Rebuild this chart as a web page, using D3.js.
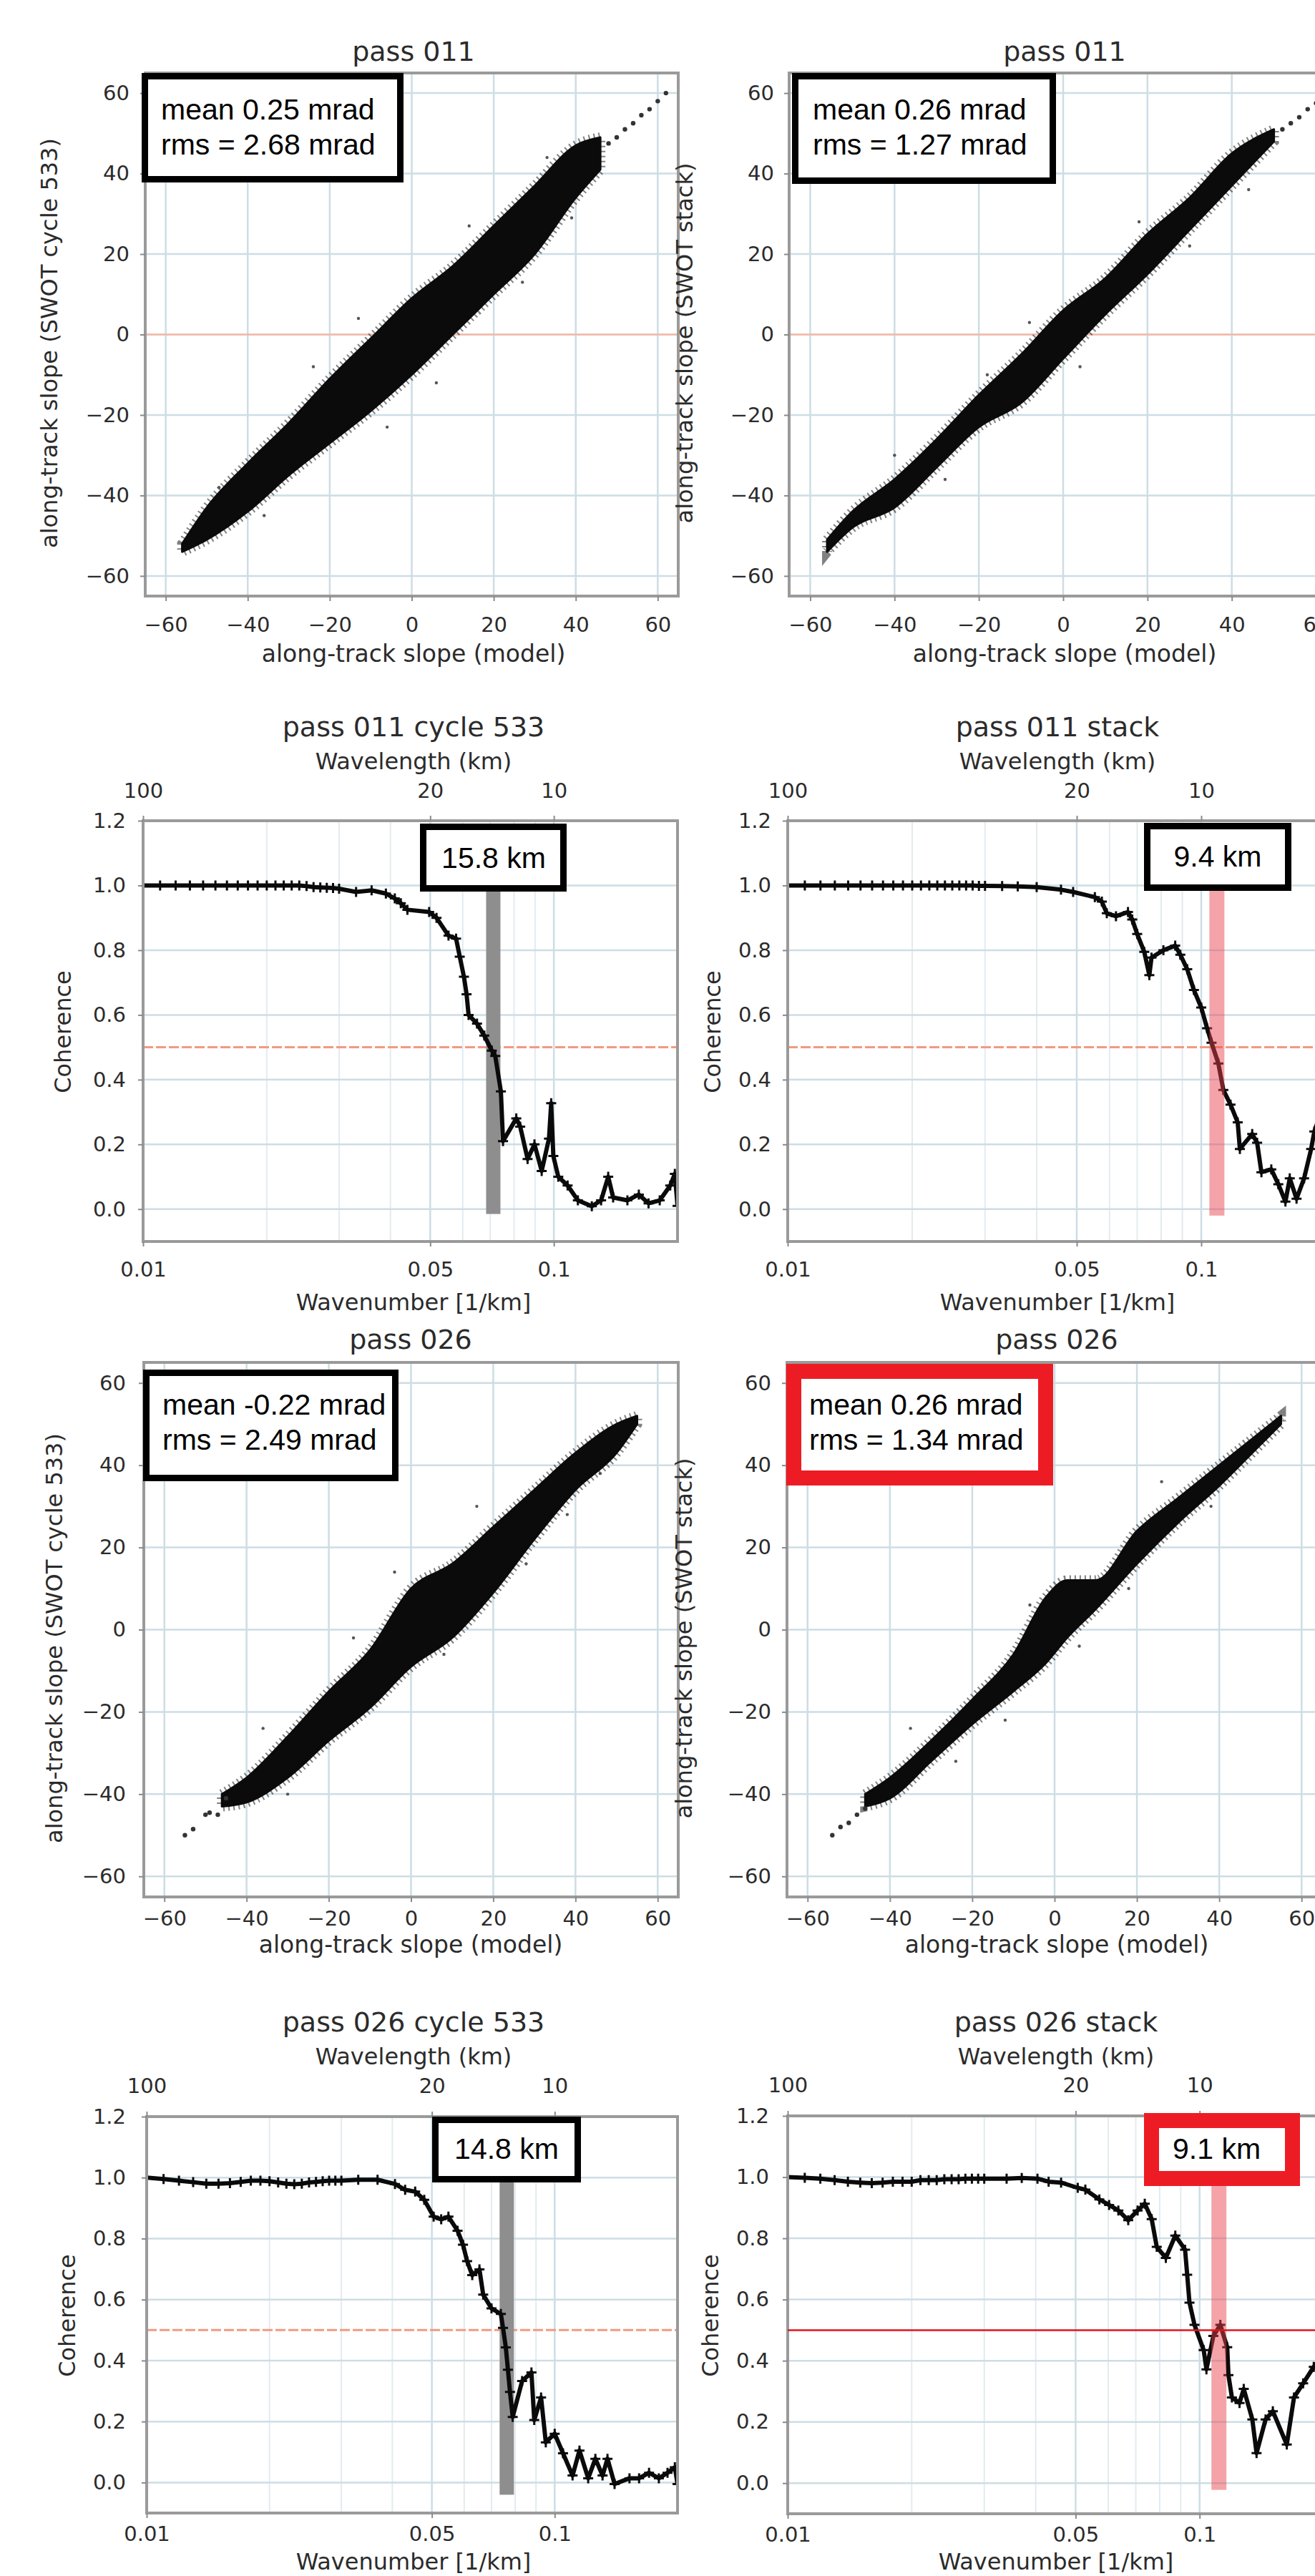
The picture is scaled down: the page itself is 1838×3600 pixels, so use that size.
<!DOCTYPE html>
<html>
<head>
<meta charset="utf-8">
<script src="https://cdn.jsdelivr.net/npm/d3@7"></script>
<style>
  body { margin: 0; background: #fff; }
  svg { display: block; }
</style>
</head>
<body>
<div class="container"></div>
<script>
// ---------- data ----------
var slopeTicks = [-60, -40, -20, 0, 20, 40, 60];
var cohTicks = [0, 0.2, 0.4, 0.6, 0.8, 1.0, 1.2];
var kTicks = [0.01, 0.05, 0.1];
var kTickLabels = ['0.01', '0.05', '0.1'];
var kMinor = [0.02, 0.03, 0.04, 0.06, 0.07, 0.08, 0.09, 0.2];
var lambdaTicks = [100, 20, 10];
var halfLine = 0.5;

// scatter clouds: dense core band (model slope -> SWOT slope range)
var p011cX  = [-56, -50, -40, -30, -20, -10, 0, 10, 20, 30, 40, 46];
var p011cLo = [-54, -51, -44, -35, -27, -19, -10, 0, 10, 20, 34, 41];
var p011cHi = [-52, -43, -32, -22, -11, -1, 9, 17, 27, 37, 47, 49];
var p011cTail = [[48, 47.5], [50, 49], [52, 51], [54, 52.5], [56, 54.5], [58, 56], [60, 58], [62, 60]];
var p011cStray = [[-47, -38], [-36, -45], [-24, -8], [-13, 4], [6, -12], [14, 27], [27, 13], [33, 44], [-6, -23], [39, 29]];

var p011sX  = [-56, -50, -40, -30, -20, -10, 0, 10, 20, 30, 40, 50];
var p011sLo = [-54, -48, -43, -33, -23, -17, -6, 5, 15, 26, 37, 48];
var p011sHi = [-51, -44, -36, -26, -15, -5, 6, 14, 25, 34, 45, 51];
var p011sTail = [[52, 51], [54, 52.5], [56, 54], [58, 56], [60, 57.5], [62, 59.5]];
var p011sStray = [[-40, -30], [-28, -36], [-8, 3], [4, -8], [18, 28], [30, 22], [44, 36], [-18, -10]];

var p026cX  = [-46, -40, -30, -20, -10, 0, 10, 20, 30, 40, 50, 55];
var p026cLo = [-43, -42, -36, -27, -19, -9, -2, 9, 22, 34, 43, 50];
var p026cHi = [-40, -36, -26, -15, -5, 10, 16, 25, 34, 43, 50, 52];
var p026cTail = [[-55, -50], [-53, -48.5], [-50, -45], [-49, -44.5], [-47, -45], [-45, -41]];
var p026cStray = [[-36, -24], [-30, -40], [-14, -2], [-4, 14], [8, -6], [16, 30], [28, 16], [38, 28], [46, 38]];

var p026sX  = [-46, -40, -30, -20, -10, -2, 3, 10, 20, 30, 40, 50, 55];
var p026sLo = [-43, -41, -32, -23, -15, -8, -2, 5, 16, 26, 35, 45, 50];
var p026sHi = [-40, -36, -27, -17, -6, 8, 12, 12, 24, 32, 40, 48, 52];
var p026sTail = [[-54, -50], [-52, -48], [-50, -47], [-48, -45], [-46, -43.5]];
var p026sStray = [[-35, -24], [-24, -32], [-6, 6], [6, -4], [18, 10], [26, 36], [38, 30], [-12, -22]];

// coherence vs wavenumber (1/km)
var c011cK = [0.010, 0.011, 0.012, 0.013, 0.014, 0.015, 0.016, 0.017, 0.018, 0.019, 0.020, 0.021, 0.022, 0.023, 0.024, 0.025, 0.026, 0.027, 0.028, 0.029, 0.030,
  0.033, 0.036, 0.039, 0.041, 0.0424, 0.044, 0.0497, 0.0518, 0.0554, 0.0578, 0.059, 0.0604, 0.0613, 0.062, 0.065, 0.0677, 0.0706, 0.072, 0.0743, 0.0752,
  0.081, 0.0828, 0.0863, 0.0897, 0.0934, 0.0973, 0.0985, 0.0997, 0.1025, 0.108, 0.1144, 0.1237, 0.1303, 0.1356, 0.1394, 0.151, 0.161, 0.17, 0.181, 0.192, 0.197, 0.2];
var c011cC = [1, 1, 1, 1, 1, 1, 1, 1, 1, 1, 1, 1, 1, 1, 1, 0.998, 0.995, 0.994, 0.993, 0.992, 0.99,
  0.98, 0.985, 0.975, 0.96, 0.945, 0.925, 0.918, 0.9, 0.845, 0.836, 0.78, 0.718, 0.664, 0.6, 0.573, 0.536, 0.49, 0.473, 0.364, 0.21,
  0.28, 0.255, 0.155, 0.2, 0.118, 0.218, 0.327, 0.164, 0.1, 0.073, 0.027, 0.009, 0.027, 0.1, 0.036, 0.027, 0.045, 0.018, 0.027, 0.073, 0.109, 0.01];

var c011sK = [0.010, 0.011, 0.012, 0.013, 0.014, 0.015, 0.016, 0.017, 0.018, 0.019, 0.020, 0.021, 0.022, 0.023, 0.024, 0.025, 0.026, 0.027, 0.028, 0.029, 0.030,
  0.033, 0.036, 0.040, 0.0458, 0.049, 0.0553, 0.0575, 0.0591, 0.0622, 0.0665, 0.0681, 0.070, 0.0728, 0.0749, 0.0758, 0.081, 0.0865, 0.089, 0.0925, 0.096,
  0.100, 0.1033, 0.1059, 0.110, 0.1131, 0.1177, 0.1225, 0.124, 0.1328, 0.1365, 0.1398, 0.1477, 0.1536, 0.1598, 0.1637, 0.170, 0.1773, 0.1844, 0.1877, 0.195, 0.2];
var c011sC = [1, 1, 1, 1, 1, 1, 1, 1, 1, 1, 1, 1, 1, 1, 1, 1, 1, 1, 1, 0.999, 0.999,
  0.998, 0.997, 0.995, 0.987, 0.98, 0.964, 0.95, 0.914, 0.905, 0.918, 0.895, 0.85, 0.795, 0.723, 0.777, 0.8, 0.814, 0.786, 0.741, 0.677,
  0.623, 0.559, 0.514, 0.45, 0.368, 0.323, 0.268, 0.186, 0.232, 0.205, 0.114, 0.123, 0.077, 0.023, 0.095, 0.032, 0.095, 0.186, 0.24, 0.3, 0.32];

var c026cK = [0.010, 0.011, 0.012, 0.013, 0.014, 0.015, 0.016, 0.017, 0.018, 0.019, 0.020, 0.021, 0.022, 0.023, 0.024, 0.025, 0.026, 0.027, 0.028, 0.029, 0.030,
  0.033, 0.0368, 0.0406, 0.043, 0.0455, 0.0479, 0.0505, 0.0527, 0.0549, 0.0578, 0.0596, 0.061, 0.0628, 0.0654, 0.0668, 0.070, 0.0738, 0.0747, 0.0759, 0.0768,
  0.0777, 0.0789, 0.0832, 0.0877, 0.0891, 0.0926, 0.0951, 0.100, 0.1048, 0.1106, 0.115, 0.1208, 0.1258, 0.131, 0.1347, 0.1402, 0.1525, 0.161, 0.1703, 0.180, 0.189, 0.197, 0.2];
var c026cC = [1.0, 0.995, 0.99, 0.985, 0.98, 0.98, 0.982, 0.986, 0.99, 0.99, 0.988, 0.984, 0.98, 0.978, 0.98, 0.984, 0.986, 0.988, 0.99, 0.99, 0.99,
  0.993, 0.993, 0.979, 0.96, 0.954, 0.927, 0.872, 0.863, 0.872, 0.826, 0.78, 0.726, 0.68, 0.699, 0.616, 0.571, 0.553, 0.507, 0.443, 0.37,
  0.297, 0.215, 0.333, 0.361, 0.205, 0.279, 0.132, 0.16, 0.096, 0.023, 0.105, 0.014, 0.078, 0.023, 0.078, -0.005, 0.014, 0.014, 0.032, 0.014, 0.032, 0.05, -0.005];

var c026sK = [0.010, 0.011, 0.012, 0.013, 0.014, 0.015, 0.016, 0.017, 0.018, 0.019, 0.020, 0.021, 0.022, 0.023, 0.024, 0.025, 0.026, 0.027, 0.028, 0.029, 0.030,
  0.034, 0.037, 0.0404, 0.043, 0.0461, 0.0506, 0.0528, 0.0571, 0.0603, 0.0635, 0.0671, 0.0707, 0.0736, 0.0765, 0.0787, 0.0828, 0.0873, 0.0922, 0.0933, 0.0945,
  0.0972, 0.1023, 0.1039, 0.108, 0.1123, 0.1167, 0.1175, 0.1198, 0.125, 0.128, 0.1343, 0.1375, 0.1446, 0.1506, 0.1628, 0.1695, 0.1784, 0.1893, 0.2];
var c026sC = [1.0, 0.998, 0.995, 0.99, 0.985, 0.982, 0.98, 0.982, 0.985, 0.985, 0.985, 0.99, 0.99, 0.99, 0.993, 0.993, 0.993, 0.995, 0.995, 0.995, 0.995,
  0.995, 0.997, 0.995, 0.985, 0.982, 0.965, 0.959, 0.927, 0.909, 0.891, 0.859, 0.891, 0.913, 0.863, 0.772, 0.736, 0.809, 0.763, 0.681, 0.59,
  0.517, 0.435, 0.372, 0.481, 0.517, 0.444, 0.353, 0.28, 0.262, 0.308, 0.208, 0.098, 0.208, 0.235, 0.126, 0.28, 0.326, 0.38, 0.42];

// resolved wavelength (km) and where the marker bar sits
var cutoffLabels = ['15.8 km', '9.4 km', '14.8 km', '9.1 km'];
var cutoffK = [0.0712, 0.1091, 0.0763, 0.1114];

var statLines = [
  ['mean 0.25 mrad', 'rms = 2.68 mrad'],
  ['mean 0.26 mrad', 'rms = 1.27 mrad'],
  ['mean -0.22 mrad', 'rms = 2.49 mrad'],
  ['mean 0.26 mrad', 'rms = 1.34 mrad']
];

// ---------- drawing ----------
const WIDTH = 1838;
const HEIGHT = 3600;
const MPL_FONT = 'DejaVu Sans, Verdana, sans-serif';
const BOX_FONT = 'Liberation Sans, Arial, sans-serif';
const TEXT_COLOR = '#2b2b2b';
const GRID_COLOR = '#cddde5';
const FRAME_COLOR = '#9a9a9a';
const RED_BOX = '#ed1c24';

var svg = d3.select('.container').append('svg')
    .attr('width', WIDTH)
    .attr('height', HEIGHT);
svg.append('rect').attr('width', WIDTH).attr('height', HEIGHT).attr('fill', '#fff');

var addText = function (g, txt, x, y, size, anchor, rotate) {
    var t = g.append('text')
        .attr('font-family', MPL_FONT)
        .attr('font-size', size)
        .attr('fill', TEXT_COLOR)
        .attr('text-anchor', anchor || 'middle')
        .text(txt);
    if (rotate)
        t.attr('transform', 'translate(' + x + ',' + y + ') rotate(-90)');
    else
        t.attr('x', x).attr('y', y);
    return t;
};

var styleAxis = function (axisG) {
    axisG.select('.domain').remove();
    axisG.selectAll('.tick line').attr('stroke', '#8a8a8a').attr('stroke-width', 2);
    axisG.selectAll('.tick text')
        .attr('font-family', MPL_FONT)
        .attr('font-size', 29)
        .attr('fill', TEXT_COLOR);
};

var addStatBox = function (g, b, lines, color, border) {
    g.append('rect')
        .attr('x', b.x0 + border / 2).attr('y', b.y0 + border / 2)
        .attr('width', b.x1 - b.x0 - border).attr('height', b.y1 - b.y0 - border)
        .attr('fill', '#fff').attr('stroke', color).attr('stroke-width', border);
    lines.forEach(function (line, i) {
        g.append('text')
            .attr('x', b.tx).attr('y', b.ty + i * 49)
            .attr('font-family', BOX_FONT).attr('font-size', 41)
            .attr('text-anchor', b.anchor || 'start')
            .attr('fill', '#000')
            .text(line);
    });
};

var drawScatter = function (cfg) {
    var f = cfg.frame;
    var x = d3.scaleLinear().domain([-65, 65]).range([f.x0, f.x1]);
    var y = d3.scaleLinear().domain([-65, 65]).range([f.y1, f.y0]);
    var g = svg.append('g');

    g.append('clipPath').attr('id', 'clip' + cfg.id).append('rect')
        .attr('x', f.x0).attr('y', f.y0).attr('width', f.x1 - f.x0).attr('height', f.y1 - f.y0);
    var inner = g.append('g').attr('clip-path', 'url(#clip' + cfg.id + ')');

    inner.selectAll('.gx').data(slopeTicks).enter().append('line')
        .attr('x1', function (d) { return x(d); }).attr('x2', function (d) { return x(d); })
        .attr('y1', f.y0).attr('y2', f.y1)
        .attr('stroke', GRID_COLOR).attr('stroke-width', 2.5);
    inner.selectAll('.gy').data(slopeTicks).enter().append('line')
        .attr('y1', function (d) { return y(d); }).attr('y2', function (d) { return y(d); })
        .attr('x1', f.x0).attr('x2', f.x1)
        .attr('stroke', GRID_COLOR).attr('stroke-width', 2.5);

    if (cfg.zeroLine)
        inner.append('line')
            .attr('x1', f.x0).attr('x2', f.x1).attr('y1', y(0)).attr('y2', y(0))
            .attr('stroke', '#f3b9a8').attr('stroke-width', 2.5);

    var idx = d3.range(cfg.cloudX.length);
    var area = d3.area()
        .x(function (i) { return x(cfg.cloudX[i]); })
        .y0(function (i) { return y(cfg.cloudLo[i]); })
        .y1(function (i) { return y(cfg.cloudHi[i]); })
        .curve(d3.curveMonotoneX);
    // speckled fringe so the cloud edge looks like scattered points
    inner.append('path').datum(idx).attr('d', area)
        .attr('fill', 'none')
        .attr('stroke', '#1a1a1a').attr('stroke-width', 14)
        .attr('stroke-dasharray', '2,5').attr('stroke-opacity', 0.55);
    inner.append('path').datum(idx).attr('d', area)
        .attr('fill', '#0b0b0b')
        .attr('stroke', '#0b0b0b').attr('stroke-width', 3)
        .attr('stroke-linejoin', 'round');

    inner.selectAll('.tail').data(cfg.tail).enter().append('circle')
        .attr('cx', function (d) { return x(d[0]); }).attr('cy', function (d) { return y(d[1]); })
        .attr('r', 3.2).attr('fill', '#333');
    inner.selectAll('.stray').data(cfg.stray).enter().append('circle')
        .attr('cx', function (d) { return x(d[0]); }).attr('cy', function (d) { return y(d[1]); })
        .attr('r', 2.2).attr('fill', '#555');

    g.append('rect')
        .attr('x', f.x0).attr('y', f.y0).attr('width', f.x1 - f.x0).attr('height', f.y1 - f.y0)
        .attr('fill', 'none').attr('stroke', FRAME_COLOR).attr('stroke-width', 4);

    var xAxis = g.append('g').attr('transform', 'translate(0,' + f.y1 + ')')
        .call(d3.axisBottom(x).tickValues(slopeTicks).tickSize(7).tickPadding(cfg.xPad).tickFormat(d3.format('d')));
    styleAxis(xAxis);
    var yAxis = g.append('g').attr('transform', 'translate(' + f.x0 + ',0)')
        .call(d3.axisLeft(y).tickValues(slopeTicks).tickSize(7).tickPadding(cfg.yPad).tickFormat(d3.format('d')));
    styleAxis(yAxis);

    addText(g, cfg.title, cfg.titleX, cfg.titleY, 38);
    addText(g, 'along-track slope (model)', cfg.titleX, cfg.xLabelY, 33);
    addText(g, cfg.yLabel, cfg.yLabelX, (f.y0 + f.y1) / 2 + 12, 32, 'middle', true);

    addStatBox(g, cfg.box, cfg.stats, cfg.boxColor, cfg.boxBorder);
};

var drawCoherence = function (cfg) {
    var f = cfg.frame;
    var x = d3.scaleLog().domain([0.01, 0.2]).range([f.x0, f.x1]);
    var y = d3.scaleLinear().domain([-0.1, 1.2]).range([f.y1, f.y0]);
    var g = svg.append('g');

    g.append('clipPath').attr('id', 'clip' + cfg.id).append('rect')
        .attr('x', f.x0).attr('y', f.y0).attr('width', f.x1 - f.x0).attr('height', f.y1 - f.y0);
    var inner = g.append('g').attr('clip-path', 'url(#clip' + cfg.id + ')');

    inner.selectAll('.gm').data(kMinor).enter().append('line')
        .attr('x1', function (d) { return x(d); }).attr('x2', function (d) { return x(d); })
        .attr('y1', f.y0).attr('y2', f.y1)
        .attr('stroke', '#e3ebef').attr('stroke-width', 2);
    inner.selectAll('.gx').data(kTicks).enter().append('line')
        .attr('x1', function (d) { return x(d); }).attr('x2', function (d) { return x(d); })
        .attr('y1', f.y0).attr('y2', f.y1)
        .attr('stroke', GRID_COLOR).attr('stroke-width', 2.5);
    inner.selectAll('.gy').data(cohTicks).enter().append('line')
        .attr('y1', function (d) { return y(d); }).attr('y2', function (d) { return y(d); })
        .attr('x1', f.x0).attr('x2', f.x1)
        .attr('stroke', GRID_COLOR).attr('stroke-width', 2.5);

    if (!cfg.solidHalf)
        inner.append('line')
            .attr('x1', f.x0).attr('x2', f.x1).attr('y1', y(halfLine)).attr('y2', y(halfLine))
            .attr('stroke', '#f29a82').attr('stroke-width', 3).attr('stroke-dasharray', '14,4');

    var barX = x(cfg.cutK);
    if (!cfg.pinkBar)
        inner.append('rect')
            .attr('x', barX - 10).attr('width', 20)
            .attr('y', cfg.box.y1).attr('height', y(cfg.barBottom) - cfg.box.y1)
            .attr('fill', '#8e8e8e');

    var pts = d3.range(cfg.k.length).map(function (i) { return [x(cfg.k[i]), y(cfg.c[i])]; });
    inner.append('path').datum(pts)
        .attr('d', d3.line())
        .attr('fill', 'none').attr('stroke', '#0a0a0a').attr('stroke-width', 6)
        .attr('stroke-linejoin', 'round');
    inner.selectAll('.mk').data(pts).enter().append('path')
        .attr('d', function (d) {
            return 'M' + (d[0] - 7) + ',' + d[1] + 'H' + (d[0] + 7) + 'M' + d[0] + ',' + (d[1] - 7) + 'V' + (d[1] + 7);
        })
        .attr('stroke', '#0a0a0a').attr('stroke-width', 3);

    if (cfg.pinkBar)
        inner.append('rect')
            .attr('x', barX - 10.5).attr('width', 21)
            .attr('y', cfg.box.y1).attr('height', y(cfg.barBottom) - cfg.box.y1)
            .attr('fill', '#e8414c').attr('fill-opacity', 0.48);

    g.append('rect')
        .attr('x', f.x0).attr('y', f.y0).attr('width', f.x1 - f.x0).attr('height', f.y1 - f.y0)
        .attr('fill', 'none').attr('stroke', FRAME_COLOR).attr('stroke-width', 4);

    if (cfg.solidHalf)
        g.append('line')
            .attr('x1', f.x0).attr('x2', WIDTH).attr('y1', y(halfLine)).attr('y2', y(halfLine))
            .attr('stroke', '#e0141c').attr('stroke-width', 2.5);

    var bottom = g.append('g').attr('transform', 'translate(0,' + f.y1 + ')')
        .call(d3.axisBottom(x).tickValues(kTicks).tickSize(7).tickPadding(cfg.xPad)
            .tickFormat(function (d, i) { return kTickLabels[i]; }));
    styleAxis(bottom);
    var top = g.append('g').attr('transform', 'translate(0,' + f.y0 + ')')
        .call(d3.axisTop(x).tickValues(lambdaTicks.map(function (l) { return 1 / l; })).tickSize(7).tickPadding(cfg.topPad)
            .tickFormat(function (d, i) { return lambdaTicks[i]; }));
    styleAxis(top);
    var left = g.append('g').attr('transform', 'translate(' + f.x0 + ',0)')
        .call(d3.axisLeft(y).tickValues(cohTicks).tickSize(7).tickPadding(cfg.yPad).tickFormat(d3.format('.1f')));
    styleAxis(left);

    addText(g, cfg.title, cfg.titleX, cfg.titleY, 38);
    addText(g, 'Wavelength (km)', cfg.titleX, cfg.titleY + 46, 32);
    addText(g, 'Wavenumber [1/km]', cfg.titleX, cfg.xLabelY, 32);
    addText(g, 'Coherence', cfg.yLabelX, cfg.yLabelY, 32, 'middle', true);

    addStatBox(g, cfg.box, [cfg.label], cfg.boxColor, cfg.boxBorder);
};

// ---------- panels ----------
drawScatter({
    id: 's1', frame: {x0: 203, x1: 948, y0: 102, y1: 833},
    cloudX: p011cX, cloudLo: p011cLo, cloudHi: p011cHi, tail: p011cTail, stray: p011cStray,
    zeroLine: true, xPad: 22, yPad: 15,
    title: 'pass 011', titleX: 578, titleY: 85, xLabelY: 925,
    yLabel: 'along-track slope (SWOT cycle 533)', yLabelX: 80,
    stats: statLines[0], boxColor: '#000', boxBorder: 9,
    box: {x0: 198, x1: 564, y0: 102, y1: 255, tx: 225, ty: 167}
});
drawScatter({
    id: 's2', frame: {x0: 1103, x1: 1869, y0: 102, y1: 833},
    cloudX: p011sX, cloudLo: p011sLo, cloudHi: p011sHi, tail: p011sTail, stray: p011sStray,
    zeroLine: true, xPad: 22, yPad: 14,
    title: 'pass 011', titleX: 1488, titleY: 85, xLabelY: 925,
    yLabel: 'along-track slope (SWOT stack)', yLabelX: 968,
    stats: statLines[1], boxColor: '#000', boxBorder: 9,
    box: {x0: 1107, x1: 1476, y0: 102, y1: 257, tx: 1136, ty: 167}
});
drawCoherence({
    id: 'c1', frame: {x0: 200, x1: 947, y0: 1147, y1: 1735},
    k: c011cK, c: c011cC, cutK: cutoffK[0], barBottom: -0.015, label: cutoffLabels[0],
    xPad: 21, topPad: 25, yPad: 17,
    title: 'pass 011 cycle 533', titleX: 578, titleY: 1029, xLabelY: 1831,
    yLabelX: 99, yLabelY: 1442,
    boxColor: '#000', boxBorder: 9,
    box: {x0: 587, x1: 792, y0: 1151, y1: 1246, tx: 690, ty: 1213, anchor: 'middle'}
});
drawCoherence({
    id: 'c2', frame: {x0: 1101, x1: 1853, y0: 1147, y1: 1735},
    k: c011sK, c: c011sC, cutK: cutoffK[1], barBottom: -0.02, label: cutoffLabels[1], pinkBar: true,
    xPad: 21, topPad: 25, yPad: 16,
    title: 'pass 011 stack', titleX: 1478, titleY: 1029, xLabelY: 1831,
    yLabelX: 1007, yLabelY: 1442,
    boxColor: '#000', boxBorder: 9,
    box: {x0: 1599, x1: 1805, y0: 1150, y1: 1245, tx: 1702, ty: 1211, anchor: 'middle'}
});
drawScatter({
    id: 's3', frame: {x0: 201, x1: 948, y0: 1904, y1: 2651},
    cloudX: p026cX, cloudLo: p026cLo, cloudHi: p026cHi, tail: p026cTail, stray: p026cStray,
    zeroLine: false, xPad: 12, yPad: 18,
    title: 'pass 026', titleX: 574, titleY: 1885, xLabelY: 2729,
    yLabel: 'along-track slope (SWOT cycle 533)', yLabelX: 87,
    stats: statLines[2], boxColor: '#000', boxBorder: 9,
    box: {x0: 200, x1: 557, y0: 1914, y1: 2070, tx: 227, ty: 1977}
});
drawScatter({
    id: 's4', frame: {x0: 1100, x1: 1848, y0: 1904, y1: 2651},
    cloudX: p026sX, cloudLo: p026sLo, cloudHi: p026sHi, tail: p026sTail, stray: p026sStray,
    zeroLine: false, xPad: 12, yPad: 15,
    title: 'pass 026', titleX: 1477, titleY: 1885, xLabelY: 2729,
    yLabel: 'along-track slope (SWOT stack)', yLabelX: 967,
    stats: statLines[3], boxColor: RED_BOX, boxBorder: 21,
    box: {x0: 1099, x1: 1472, y0: 1906, y1: 2076, tx: 1131, ty: 1977}
});
drawCoherence({
    id: 'c3', frame: {x0: 205, x1: 947, y0: 2958, y1: 3512},
    k: c026cK, c: c026cC, cutK: cutoffK[2], barBottom: -0.04, label: cutoffLabels[2],
    xPad: 11, topPad: 26, yPad: 22,
    title: 'pass 026 cycle 533', titleX: 578, titleY: 2839, xLabelY: 3591,
    yLabelX: 105, yLabelY: 3236,
    boxColor: '#000', boxBorder: 9,
    box: {x0: 604, x1: 812, y0: 2958, y1: 3050, tx: 708, ty: 3017, anchor: 'middle'}
});
drawCoherence({
    id: 'c4', frame: {x0: 1101, x1: 1850, y0: 2957, y1: 3513},
    k: c026sK, c: c026sC, cutK: cutoffK[3], barBottom: -0.022, label: cutoffLabels[3], pinkBar: true, solidHalf: true,
    xPad: 11, topPad: 26, yPad: 19,
    title: 'pass 026 stack', titleX: 1476, titleY: 2839, xLabelY: 3591,
    yLabelX: 1004, yLabelY: 3236,
    boxColor: RED_BOX, boxBorder: 21,
    box: {x0: 1599, x1: 1817, y0: 2953, y1: 3055, tx: 1639, ty: 3017}
});
</script>
</body>
</html>
